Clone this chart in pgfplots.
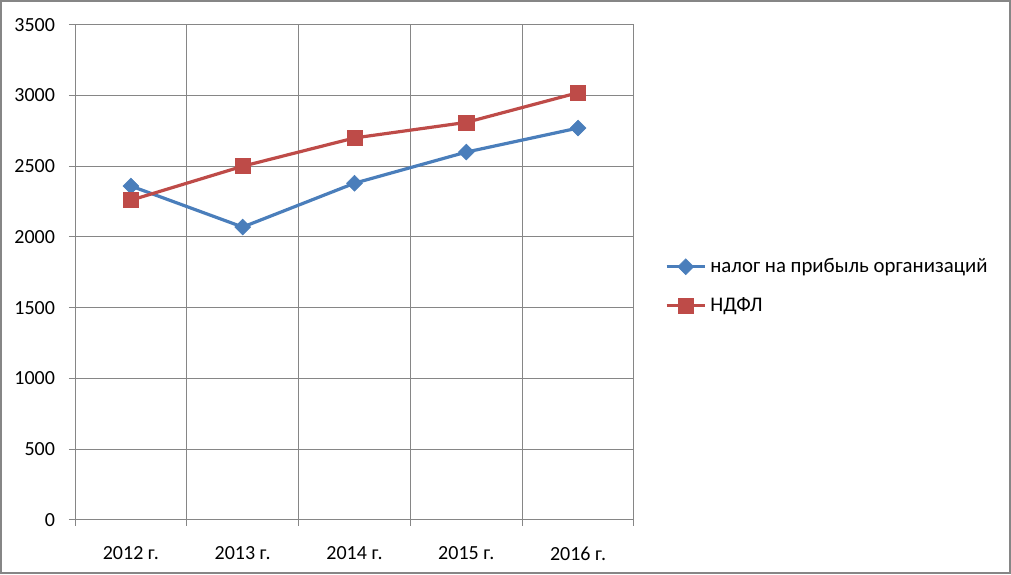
\documentclass[border=0pt]{standalone}
\usepackage{pgfplots}
\pgfplotsset{compat=1.18}
\usepackage{fontspec}
\setmainfont{Carlito}
\definecolor{gridc}{RGB}{134,134,134}
\definecolor{blueS}{RGB}{74,126,187}
\definecolor{redS}{RGB}{190,75,72}
\begin{document}
\begin{tikzpicture}
\useasboundingbox (0pt,0pt) rectangle (505.5pt,287pt);
\draw[gridc, line width=0.8pt] (0.5pt,0.5pt) rectangle (505pt,286.5pt);
\begin{axis}[
  at={(37.5pt,27.1pt)}, anchor=south west,
  scale only axis, width=279.5pt, height=247.5pt,
  xmin=-0.5, xmax=4.5, ymin=0, ymax=3500,
  xtick={0,1,2,3,4},
  xticklabels={2012 г.,2013 г.,2014 г.,2015 г.,2016 г.},
  minor xtick={-0.5,0.5,1.5,2.5,3.5,4.5},
  ytick={0,500,...,3500},
  xtick pos=left, ytick pos=left,
  tick align=outside,
  major x tick style={draw=none},
  minor x tick style={draw=gridc, line width=0.5pt},
  major y tick style={draw=gridc, line width=0.5pt},
  major tick length=3pt, minor tick length=3pt,
  xminorgrids=true, ymajorgrids=true,
  minor grid style={draw=gridc, line width=0.5pt},
  major grid style={draw=gridc, line width=0.5pt},
  axis line style={draw=gridc, line width=0.5pt},
  /pgf/number format/assume math mode=true,
  /pgf/number format/1000 sep={},
  yticklabel style={xshift=-3.5pt},
  xticklabel style={yshift=-7pt},
  legend style={at={(1.055,0.472)}, anchor=west, draw=none, fill=none,
    inner sep=0pt, row sep=7pt, font=\fontsize{10.4}{12}\selectfont},
  legend cell align=left,
  legend image code/.code={\draw[mark repeat=2,mark phase=2,#1] plot coordinates {(0pt,0pt) (9.5pt,0pt) (19pt,0pt)};},
]
\addplot[blueS, line width=1.6pt, mark=square*, mark size=2.8pt,
  mark options={rotate=45, solid, fill=blueS, draw=blueS, line width=0.3pt}]
  coordinates {(0,2360) (1,2070) (2,2380) (3,2600) (4,2770)};
\addlegendentry{налог на прибыль организаций}
\addplot[redS, line width=1.6pt, mark=square*, mark size=3.75pt,
  mark options={solid, fill=redS, draw=redS, line width=0.3pt}]
  coordinates {(0,2260) (1,2500) (2,2700) (3,2810) (4,3020)};
\addlegendentry{НДФЛ}
\end{axis}
\end{tikzpicture}
\end{document}
